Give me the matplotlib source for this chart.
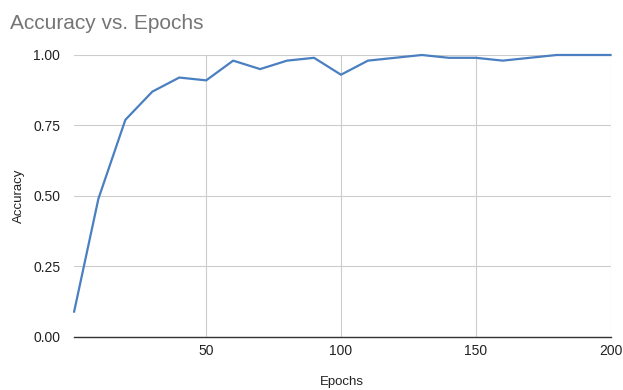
import matplotlib.pyplot as plt

plt.rcParams['font.family'] = ['Liberation Sans', 'DejaVu Sans']

epochs = [1, 10, 20, 30, 40, 50, 60, 70, 80, 90, 100,
          110, 120, 130, 140, 150, 160, 170, 180, 190, 200]
accuracy = [0.09, 0.49, 0.77, 0.87, 0.92, 0.91, 0.98, 0.95, 0.98, 0.99, 0.93,
            0.98, 0.99, 1.00, 0.99, 0.99, 0.98, 0.99, 1.00, 1.00, 1.00]
xticks = [50, 100, 150, 200]
yticks = [0.00, 0.25, 0.50, 0.75, 1.00]

fig = plt.figure(figsize=(6.23, 3.9), dpi=100)
ax = fig.add_axes([0.119, 0.136, 0.861, 0.723])

ax.plot(epochs, accuracy, color='#4a7fc1', linewidth=1.6, clip_on=False, zorder=3)

ax.set_xlim(1, 200)
ax.set_ylim(0, 1)
ax.set_xticks(xticks)
ax.set_yticks(yticks)
ax.set_yticklabels(['%.2f' % v for v in yticks])

ax.grid(True, color='#cccccc', linewidth=0.8)
ax.set_axisbelow(True)
for s in ['top', 'right', 'left']:
    ax.spines[s].set_visible(False)
ax.spines['bottom'].set_color('#333333')
ax.spines['bottom'].set_linewidth(1.0)
ax.tick_params(length=0, labelsize=10, labelcolor='#222222')
ax.tick_params(axis='x', pad=5)
ax.tick_params(axis='y', pad=10)

ax.set_xlabel('Epochs', fontsize=9.5, color='#222222', labelpad=13)
ax.set_ylabel('Accuracy', fontsize=9.5, color='#222222', labelpad=6)
fig.text(0.016, 0.94, 'Accuracy vs. Epochs', fontsize=15, color='#757575',
         va='center', ha='left')

plt.savefig('out.png', dpi=100)
